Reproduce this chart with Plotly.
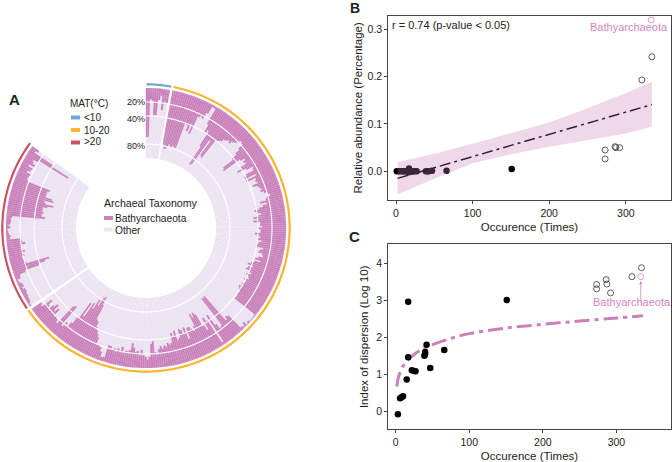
import plotly.graph_objects as go

W, H = 672, 462
PINK = "#CB80BA"
TEXT_PINK = "#D685BF"
LIGHT = "#ECE3F2"
BLUE = "#6FA8D8"
YELLOW = "#FDB52F"
RED = "#C9545F"
DARK = "#222222"
FONT = "Liberation Sans"

# Panel A: percentage of Bathyarchaeota per sample
blue_samples = [70, 70, 16, 18, 38, 38, 16, 10, 30, 17, 20]
yellow_samples = [
    72, 78, 84, 83, 80, 76, 78, 80, 76, 78,
    78, 40, 42, 50, 38, 52, 24, 22, 24, 14,
    3, 3, 28, 40, 35, 60, 90, 88, 45, 70,
    72, 40, 38, 36, 32, 30, 28, 30, 26, 24,
    18, 16, 18, 26, 34, 42, 60, 62, 34, 28,
    32, 30, 40, 47, 34, 24, 26, 38, 42, 26,
    42, 28, 30, 28, 36, 30, 28, 26, 28, 24,
    20, 16, 22, 24, 33, 24, 30, 36, 43, 40,
    34, 38, 46, 40, 46, 36, 37, 34, 40, 36,
    36, 44, 38, 36, 39, 34, 38, 39, 40, 30,
    34, 36, 30, 28, 34, 38, 30, 38, 42, 46,
    38, 44, 46, 40, 36, 42, 38, 36, 42, 38,
    40, 42, 38, 44, 42, 40, 38, 40, 38, 38,
    38, 2, 1, 1, 1, 3, 1, 6, 2, 4,
    28, 30, 26, 72, 70, 72, 24, 22, 30, 48,
    4, 42, 48, 30, 38, 58, 62, 56, 62, 44,
    38, 42, 46, 46, 30, 48, 40, 46, 48, 36,
    34, 48, 40, 46, 32, 30, 33, 28, 30, 26,
    30, 26, 18, 22, 38, 34, 16, 12, 16, 18,
    26, 18, 24, 22, 28, 34, 24, 22, 22, 20,
    27, 20, 24, 18, 22, 20, 24, 24, 6, 5,
    12, 18, 20, 20, 30, 34, 38, 42, 50, 52,
    74, 86, 84, 70, 78, 62, 70, 46, 67, 40,
    28, 20, 24, 16, 50, 48, 14, 18, 20, 18,
    30, 24, 33, 28, 20, 23, 30, 14, 16,
]
red_samples = [
    2, 2, 4, 5, 5, 6, 6, 7, 7, 4,
    7, 6, 3, 2, 7, 8, 17, 38, 48, 55,
    22, 20, 19, 18, 22, 20, 24, 21, 19, 20,
    26, 22, 21, 5, 6, 4, 3, 2, 6, 4,
    6, 7, 6, 8, 55, 50, 50, 52, 50, 50,
    50, 56, 64, 52, 50, 63, 60, 50, 50, 50,
    50, 53, 18, 16, 17, 18, 12, 16, 17, 10,
    18, 14, 12, 19, 68, 40, 8, 12,
]
group_starts = [0.4, 11.0, 236.0]
sample_step = 0.9
ring_pcts = [20, 40, 80]
ring_labels = ["20%", "40%", "80%"]

# Panel B
b_fill_x = [1, 3, 5, 7, 9, 10, 12, 14, 15, 17, 17, 20, 22, 25, 27, 39, 41, 43, 47, 66, 151]
b_fill_y = [0, 0, 0, 0, 0, 0, 0, 0, 0, 0.006, -0.002, 0, 0, 0, 0, 0, 0, 0, 0.001, 0.001, 0.005]
b_open_x = [273, 273, 286, 287, 292, 321, 334]
b_open_y = [0.045, 0.026, 0.052, 0.05, 0.05, 0.193, 0.242]
b_hi_x, b_hi_y = [333], [0.32]
b_band_x = [2, 50, 100, 150, 200, 250, 300, 334]
b_band_hi = [0.019, 0.037, 0.058, 0.08, 0.103, 0.133, 0.165, 0.189]
b_band_lo = [-0.049, -0.016, 0.017, 0.036, 0.052, 0.066, 0.08, 0.094]
b_fit_x = [2, 334]
b_fit_y = [-0.015, 0.141]

# Panel C
c_fill_x = [3, 6, 8, 10, 15, 17, 17, 22, 25, 27, 39, 40, 40, 42, 47, 66, 151]
c_fill_y = [-0.08, 0.35, 0.38, 0.41, 0.86, 1.46, 2.96, 1.11, 1.09, 1.08, 1.5, 1.55, 1.6, 1.8, 1.17, 1.66, 3.01]
c_open_x = [273, 273, 286, 287, 292, 321, 334]
c_open_y = [3.43, 3.31, 3.56, 3.44, 3.2, 3.64, 3.88]
c_hi_x, c_hi_y = [333], [3.64]
c_curve_x = [1.5, 3, 5, 10, 20, 35, 50, 75, 100, 150, 200, 250, 300, 336]
c_curve_y = [0.67, 0.85, 1.0, 1.22, 1.45, 1.67, 1.8, 1.97, 2.1, 2.25, 2.35, 2.44, 2.52, 2.58]


def fx(px):
    return px / W


def fy(py):
    return 1 - py / H


fig = go.Figure()

# ---------- Panel A ----------
thetas, values = [], []
for start, group in zip(group_starts, [blue_samples, yellow_samples, red_samples]):
    for i, v in enumerate(group):
        thetas.append(start + i * sample_step)
        values.append(v)

fig.add_trace(go.Barpolar(
    theta=thetas, r=[100 for _ in values], base=[0 for _ in values],
    width=[sample_step + 0.1] * len(values),
    marker=dict(color=LIGHT, line=dict(color=LIGHT, width=0)),
    name="Other", showlegend=False,
))
fig.add_trace(go.Barpolar(
    theta=thetas, r=values, base=[100 - v for v in values],
    width=[sample_step] * len(values),
    marker=dict(color=PINK, line=dict(color="#D8A4CC", width=0.15)),
    name="Bathyarchaeota", showlegend=False,
))

arc_theta = [i * 0.5 for i in range(0, 613)]
for p in ring_pcts:
    fig.add_trace(go.Scatterpolar(
        theta=arc_theta, r=[100 - p] * len(arc_theta), mode="lines",
        line=dict(color="white", width=1.1), hoverinfo="skip", showlegend=False,
    ))
for sep in [10.6, 235.6]:
    fig.add_trace(go.Scatterpolar(
        theta=[sep, sep], r=[0, 100], mode="lines",
        line=dict(color="white", width=1.5), hoverinfo="skip", showlegend=False,
    ))
for a, b, col in [(0.2, 10.2, BLUE), (11.0, 235.0, YELLOW), (236.0, 306.2, RED)]:
    n = int((b - a) * 2) + 1
    th = [a + (b - a) * k / (n - 1) for k in range(n)]
    fig.add_trace(go.Scatterpolar(
        theta=th, r=[105.5] * n, mode="lines",
        line=dict(color=col, width=2.6), hoverinfo="skip", showlegend=False,
    ))

# ---------- Panel B ----------
fig.add_trace(go.Scatter(
    x=b_fill_x, y=b_fill_y, mode="markers", xaxis="x", yaxis="y",
    marker=dict(color="#000000", size=6.5), showlegend=False,
))
fig.add_trace(go.Scatter(
    x=b_band_x + b_band_x[::-1], y=b_band_hi + b_band_lo[::-1], mode="lines",
    fill="toself", fillcolor="rgba(201,125,184,0.30)", line=dict(width=0),
    xaxis="x", yaxis="y", hoverinfo="skip", showlegend=False,
))
fig.add_trace(go.Scatter(
    x=b_fit_x, y=b_fit_y, mode="lines", xaxis="x", yaxis="y",
    line=dict(color="#3B1C36", width=1.5, dash="11px,4px,3px,4px"), showlegend=False,
))
fig.add_trace(go.Scatter(
    x=b_open_x, y=b_open_y, mode="markers", xaxis="x", yaxis="y",
    marker=dict(color="rgba(0,0,0,0)", size=6, line=dict(color="#333333", width=0.8)), showlegend=False,
))
fig.add_trace(go.Scatter(
    x=b_hi_x, y=b_hi_y, mode="markers", xaxis="x", yaxis="y",
    marker=dict(color="rgba(0,0,0,0)", size=6, line=dict(color=TEXT_PINK, width=0.8)), showlegend=False,
))

# ---------- Panel C ----------
fig.add_trace(go.Scatter(
    x=c_curve_x, y=c_curve_y, mode="lines", xaxis="x2", yaxis="y2",
    line=dict(color=PINK, width=3, dash="15px,5px,4px,5px", shape="spline"), showlegend=False,
))
fig.add_trace(go.Scatter(
    x=c_fill_x, y=c_fill_y, mode="markers", xaxis="x2", yaxis="y2",
    marker=dict(color="#000000", size=6.5), showlegend=False,
))
fig.add_trace(go.Scatter(
    x=c_open_x, y=c_open_y, mode="markers", xaxis="x2", yaxis="y2",
    marker=dict(color="rgba(0,0,0,0)", size=6, line=dict(color="#333333", width=0.8)), showlegend=False,
))
fig.add_trace(go.Scatter(
    x=c_hi_x, y=c_hi_y, mode="markers", xaxis="x2", yaxis="y2",
    marker=dict(color="rgba(0,0,0,0)", size=6, line=dict(color=TEXT_PINK, width=0.8)), showlegend=False,
))

axis_common = dict(
    showgrid=False, zeroline=False, showline=True, mirror=True, linecolor="#444444", linewidth=1,
    ticks="outside", ticklen=3, tickwidth=1, tickcolor="#444444",
    tickfont=dict(family=FONT, size=10.5, color=DARK),
)
title_font = dict(family=FONT, size=11.5, color=DARK)


def note(x, y, text, size=10, color=DARK, anchor="center", bold=False):
    return dict(
        x=fx(x), y=fy(y), xref="paper", yref="paper", text=f"<b>{text}</b>" if bold else text,
        showarrow=False, xanchor=anchor, yanchor="middle", borderpad=0, borderwidth=0,
        font=dict(family=FONT, size=size, color=color),
    )


annotations = [
    note(14, 99, "A", 15, "#222222", bold=True),
    note(355, 8, "B", 14, "#222222", bold=True),
    note(354, 236, "C", 15, "#222222", bold=True),
    note(70, 103, "MAT(°C)", 10, anchor="left"),
    note(84, 117, "&lt;10", 10, anchor="left"),
    note(84, 130, "10-20", 10, anchor="left"),
    note(84, 142, "&gt;20", 10, anchor="left"),
    note(104, 203, "Archaeal Taxonomy", 10.6, anchor="left"),
    note(115, 218, "Bathyarchaeota", 10.2, anchor="left"),
    note(115, 230, "Other", 10.2, anchor="left"),
    note(391.5, 25, "r = 0.74 (p-value &lt; 0.05)", 11, anchor="left"),
    note(668, 27, "Bathyarchaeota", 11, TEXT_PINK, anchor="right"),
    note(671, 302, "Bathyarchaeota", 11, TEXT_PINK, anchor="right"),
]
for lab, y in zip(ring_labels, [102, 119, 146]):
    annotations.append(note(145, y, lab, 9, anchor="right"))
annotations.append(dict(
    x=333, y=3.52, xref="x2", yref="y2", ax=333, ay=2.92, axref="x2", ayref="y2",
    text="", showarrow=True, arrowhead=2, arrowsize=0.8, arrowwidth=0.8, arrowcolor=TEXT_PINK,
))


def swatch(x0, y0, x1, y1, col):
    return dict(type="rect", xref="paper", yref="paper", x0=fx(x0), x1=fx(x1), y0=fy(y0), y1=fy(y1),
                fillcolor=col, line=dict(width=0), layer="above")


shapes = [
    swatch(71, 115.5, 80, 119.5, BLUE),
    swatch(71, 128, 80, 132, YELLOW),
    swatch(71, 140.5, 80, 144.5, RED),
    swatch(104, 216, 113, 220, PINK),
    swatch(104, 227.5, 113, 231.5, LIGHT),
]

CX, CY, RAD = 146, 228, 144.9
fig.update_layout(
    width=W, height=H, autosize=False,
    margin=dict(l=0, r=0, t=0, b=0),
    paper_bgcolor="white", plot_bgcolor="rgba(0,0,0,0)",
    showlegend=False, annotations=annotations, shapes=shapes,
    font=dict(family=FONT),
    polar=dict(
        domain=dict(x=[fx(CX - RAD), fx(CX + RAD)], y=[fy(CY + RAD), fy(CY - RAD)]),
        bgcolor="rgba(0,0,0,0)", barmode="overlay",
        radialaxis=dict(range=[-100, 107], visible=False, showgrid=False),
        angularaxis=dict(rotation=90, direction="clockwise", visible=False, showgrid=False),
    ),
    xaxis=dict(domain=[fx(388.3), fx(670.7)], range=[-10.05, 358.6], anchor="y",
               tickvals=[0, 100, 200, 300],
               title=dict(text="Occurence (Times)", font=title_font, standoff=5), **axis_common),
    yaxis=dict(domain=[fy(200), fy(15.7)], range=[-0.0607, 0.3288], anchor="x",
               tickvals=[0, 0.1, 0.2, 0.3], tickformat=".1f",
               title=dict(text="Relative abundance (Percentage)", font=title_font, standoff=2), **axis_common),
    xaxis2=dict(domain=[fx(388.3), fx(670.7)], range=[-10, 373.7], anchor="y2",
                tickvals=[0, 100, 200, 300],
                title=dict(text="Occurence (Times)", font=title_font, standoff=5), **axis_common),
    yaxis2=dict(domain=[fy(429.3), fy(244.3)], range=[-0.486, 4.514], anchor="x2",
                tickvals=[0, 1, 2, 3, 4],
                title=dict(text="Index of dispersion (Log 10)", font=title_font, standoff=5), **axis_common),
)

fig.write_html(
    "out.html",
    config={"displayModeBar": False},
    post_script="document.body.style.margin='0';document.documentElement.style.overflow='hidden';",
)
